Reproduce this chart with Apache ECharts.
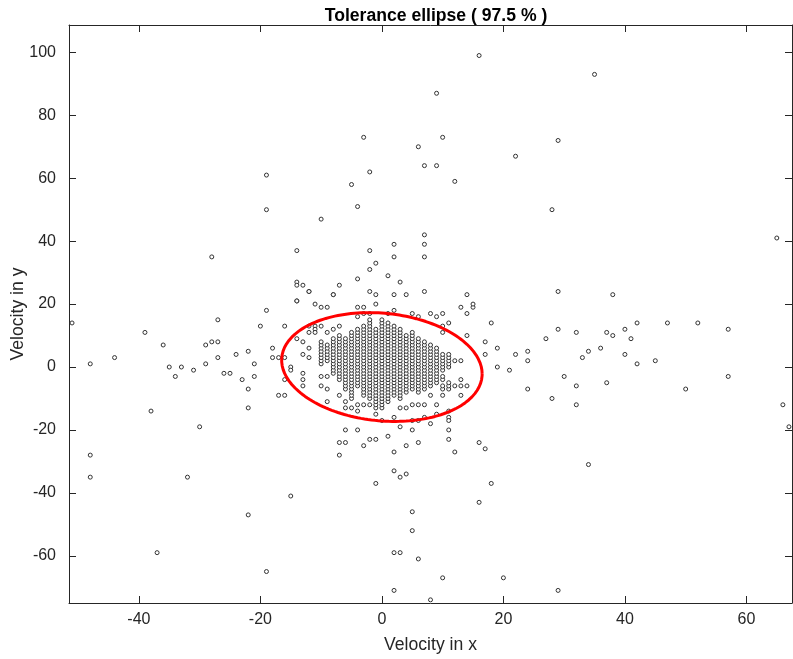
<!DOCTYPE html>
<html>
<head>
<meta charset="utf-8">
<script src="https://cdn.jsdelivr.net/npm/echarts@6/dist/echarts.min.js"></script>
<style>
  html, body { margin: 0; padding: 0; background: #fff; }
  #chart { width: 793px; height: 659px; }
</style>
</head>
<body>
<div id="chart"></div>
<script>
// ---------------- DATA ----------------
const titleText = 'Tolerance ellipse ( 97.5 % )';
const xAxisTitle = 'Velocity in x';
const yAxisTitle = 'Velocity in y';
const xRange = [-51.5, 67.5];
const yRange = [-75, 108.7];

// dense core: one column of integer-valued y velocities per integer x velocity
const coreColumnX = [-10, -9, -8, -7, -6, -5, -4, -3, -2, -1, 0, 1, 2, 3, 4, 5, 6, 7, 8, 9, 10, 11];
const coreColumnY = [
  [1, 2, 3, 4, 5, 6, 7, 8],
  [2, 3, 4, 5, 6, 7],
  [-2, -1, 0, 1, 2, 3, 4, 5, 6, 7, 8, 9],
  [-4, -3, -2, -1, 0, 1, 2, 3, 4, 5, 6, 7, 8, 9, 10],
  [-7, -6, -5, -4, -3, -2, -1, 0, 1, 2, 3, 4, 5, 6, 7, 8, 9],
  [-10, -9, -8, -7, -6, -5, -4, -3, -2, -1, 0, 1, 2, 3, 4, 5, 6, 7, 8, 9, 10, 11],
  [-6, -5, -4, -3, -2, -1, 0, 1, 2, 3, 4, 5, 6, 7, 8, 9, 10, 11, 12],
  [-9, -8, -7, -6, -5, -4, -3, -2, -1, 0, 1, 2, 3, 4, 5, 6, 7, 8, 9, 10, 11, 12, 13],
  [-10, -9, -8, -7, -6, -5, -4, -3, -2, -1, 0, 1, 2, 3, 4, 5, 6, 7, 8, 9, 10, 11, 12, 13, 14, 15],
  [-13, -12, -11, -10, -9, -8, -7, -6, -5, -4, -3, -2, -1, 0, 1, 2, 3, 4, 5, 6, 7, 8, 9, 10, 11, 12],
  [-13, -12, -11, -10, -9, -8, -7, -6, -5, -4, -3, -2, -1, 0, 1, 2, 3, 4, 5, 6, 7, 8, 9, 10, 11, 12, 13, 14, 15],
  [-11, -10, -9, -8, -7, -6, -5, -4, -3, -2, -1, 0, 1, 2, 3, 4, 5, 6, 7, 8, 9, 10, 11, 12, 13, 14],
  [-9, -8, -7, -6, -5, -4, -3, -2, -1, 0, 1, 2, 3, 4, 5, 6, 7, 8, 9, 10, 11, 12, 13],
  [-10, -9, -8, -7, -6, -5, -4, -3, -2, -1, 0, 1, 2, 3, 4, 5, 6, 7, 8, 9, 10, 11, 12],
  [-8, -7, -6, -5, -4, -3, -2, -1, 0, 1, 2, 3, 4, 5, 6, 7, 8, 9, 10],
  [-7, -6, -5, -4, -3, -2, -1, 0, 1, 2, 3, 4, 5, 6, 7, 8, 9, 10, 11],
  [-8, -7, -6, -5, -4, -3, -2, -1, 0, 1, 2, 3, 4, 5, 6, 7, 8, 9],
  [-7, -6, -5, -4, -3, -2, -1, 0, 1, 2, 3, 4, 5, 6, 7, 8],
  [-6, -5, -4, -3, -2, -1, 0, 1, 2, 3, 4, 5, 6, 7],
  [-5, -4, -3, -2, -1, 0, 1, 2, 3, 4, 5, 6],
  [-7, -6, -4, -3, -1, 0, 1, 2, 3, 4],
  [-7, -6, -5, 0, 1, 2, 3, 4]
];

// scattered points around the core (inside and near the ellipse)
const nearPoints = [
  [-16, 13], [-14, 9], [-13, 8], [-12, 13], [-11, 13], [-11, 12], [-11, 11], [-10, 13], [-9, 11], [-8, 12], [-7, 13],
  [-12, 11], [-13, 4], [-12, 6], [-12, 3], [-13, -2], [-13, -4], [-13, -6], [-15, 0], [-15, -1], [-16, -4], [-17, -9],
  [-18, 6], [-18, 3], [-17, 3], [-16, 3], [-10, -3], [-10, -6], [-9, -3], [-9, -7], [-9, -11], [-7, -9],
  [-6, -11], [-6, -13], [-5, -13], [-4, -12], [-3, -12], [-4, -14], [-2, -12], [-1, -15], [0, -17],
  [3, -13], [4, -13], [5, -12], [6, -12], [7, -12], [8, -9], [9, -12],
  [10, -9], [12, -6], [13, -6], [14, -6], [13, -4],
  [12, 2], [13, 2], [14, 10], [10, 11], [10, 13], [11, 14],
  [8, 17], [9, 16], [10, 17], [5, 17], [6, 16], [14, 17], [15, 19], [-2, 17], [-3, 17], [1, 17], [2, 18],
  [-12, 24], [-14, 21], [-11, 20], [-8, 23], [-4, 16], [-2, 24], [-1, 23], [-1, 20], [-4, 19], [-3, 19],
  [-6, -20], [-4, -20], [2, -16], [5, -17], [9, -15], [11, -14], [11, -16], [13, -9], [7, -16]
];

// outlying points
const outerPoints = [
  [16, 99], [35, 93], [9, 87], [10, 73], [6, 70], [29, 72], [7, 64], [9, 64], [22, 67], [12, 59], [28, 50], [65, 41],
  [7, 42], [7, 39], [7, 35], [3, 27], [4, 23], [7, 24], [14, 23], [29, 24], [38, 23], [15, 20], [13, 19],
  [-3, 73], [-19, 61], [-2, 62], [-5, 58], [-4, 51], [-19, 50], [-10, 47], [-28, 35], [-14, 37], [-2, 37], [2, 39],
  [2, 35], [-1, 33], [-2, 31], [-4, 28], [1, 29], [-14, 27], [-14, 26], [-13, 26], [-12, 24], [-7, 26], [-8, 23],
  [2, 23], [-14, 21], [-10, 19], [-9, 19],
  [-51, 14], [-48, 1], [-44, 3], [-39, 11], [-36, 7], [-35, 0], [-34, -3], [-33, 0], [-31, -1], [-38, -14],
  [-29, 1], [-29, 7], [-28, 8], [-27, 8], [-27, 15], [-27, 3], [-26, -2], [-25, -2], [-24, 4], [-23, -4], [-22, 5],
  [-22, -7], [-22, -13], [-21, 1], [-21, -3], [-20, 13], [-19, 18], [-16, -9],
  [-30, -19], [-48, -28], [-48, -35], [-32, -35], [-37, -59], [-15, -41], [-22, -47], [-19, -65],
  [-7, -24], [-6, -24], [-7, -28], [-3, -25], [-2, -23], [-1, -23], [1, -22], [2, -27], [3, -19], [5, -20],
  [4, -25], [6, -24], [6, -17], [8, -18], [11, -17], [11, -20], [11, -23], [12, -27], [-1, -37], [2, -33], [3, -35],
  [4, -34], [5, -46], [5, -52], [2, -59], [3, -59], [6, -61], [2, -71], [8, -74], [10, -67], [20, -67], [29, -71],
  [16, -24], [17, -26], [18, -37], [16, -43], [34, -31], [67, -19], [66, -12],
  [18, 14], [17, 8], [17, 4], [19, 6], [19, 0], [21, -1], [22, 4], [24, 5], [24, 2], [24, -7], [27, 9], [28, -10],
  [29, 12], [30, -3], [32, 11], [32, -6], [32, -12], [33, 3], [34, 5], [36, 6], [37, 11], [38, 10], [37, -5],
  [40, 12], [40, 4], [41, 9], [42, 14], [42, 1], [45, 2], [47, 14], [50, -7], [52, 14], [57, 12], [57, -3]
];

// tolerance ellipse parameters (mean, covariance, chi-square quantile for 97.5 %)
const ellipseCenter = [0, 0];
const ellipseCovariance = [[36.9, -4.9], [-4.9, 40.5]];
const chiSquare975 = 7.378;

// ---------------- BUILD ----------------
const corePoints = [];
coreColumnX.forEach((x, i) => coreColumnY[i].forEach(y => corePoints.push([x, y])));
const allPoints = corePoints.concat(nearPoints, outerPoints);

function ellipsePath() {
  const sxx = ellipseCovariance[0][0] * chiSquare975;
  const sxy = ellipseCovariance[0][1] * chiSquare975;
  const syy = ellipseCovariance[1][1] * chiSquare975;
  const l11 = Math.sqrt(sxx), l21 = sxy / l11, l22 = Math.sqrt(syy - l21 * l21);
  const pts = [];
  const n = 180;
  for (let k = 0; k <= n; k++) {
    const t = 2 * Math.PI * k / n;
    const c = Math.cos(t), s = Math.sin(t);
    pts.push([ellipseCenter[0] + l11 * c, ellipseCenter[1] + l21 * c + l22 * s]);
  }
  return pts;
}

const FONT = '"Liberation Sans", Arial, Helvetica, sans-serif';
const AXIS_COLOR = '#262626';

const chart = echarts.init(document.getElementById('chart'), null, { renderer: 'canvas' });
const baseX = {
  type: 'value', min: xRange[0], max: xRange[1], splitNumber: 6,
  axisLine: { show: true, onZero: false, lineStyle: { color: AXIS_COLOR, width: 1 } },
  axisTick: { show: true, inside: true, length: 7, lineStyle: { color: AXIS_COLOR, width: 1 } },
  splitLine: { show: false }
};
const baseY = {
  type: 'value', min: yRange[0], max: yRange[1], splitNumber: 9,
  axisLine: { show: true, onZero: false, lineStyle: { color: AXIS_COLOR, width: 1 } },
  axisTick: { show: true, inside: true, length: 7, lineStyle: { color: AXIS_COLOR, width: 1 } },
  splitLine: { show: false }
};

chart.setOption({
  animation: false,
  backgroundColor: '#ffffff',
  title: {
    text: titleText, left: 431, top: 2, textAlign: 'center',
    textStyle: { fontFamily: FONT, fontSize: 17.6, fontWeight: 'bold', color: '#000' }
  },
  grid: { left: 69, right: 1, top: 25, bottom: 56, containLabel: false, outerBoundsMode: 'none' },
  xAxis: [
    Object.assign({}, baseX, {
      position: 'bottom',
      name: xAxisTitle, nameLocation: 'middle', nameGap: 33, nameMoveOverlap: false,
      nameTextStyle: { fontFamily: FONT, fontSize: 17.6, color: AXIS_COLOR },
      axisLabel: { show: true, margin: 9, showMinLabel: false, showMaxLabel: false,
        fontFamily: FONT, fontSize: 16, color: AXIS_COLOR }
    }),
    Object.assign({}, baseX, { position: 'top', axisLabel: { show: false } })
  ],
  yAxis: [
    Object.assign({}, baseY, {
      position: 'left',
      name: yAxisTitle, nameLocation: 'middle', nameGap: 42, nameRotate: 90, nameMoveOverlap: false,
      nameTextStyle: { fontFamily: FONT, fontSize: 17.6, color: AXIS_COLOR },
      axisLabel: { show: true, margin: 13, showMinLabel: false, showMaxLabel: false,
        fontFamily: FONT, fontSize: 16, color: AXIS_COLOR }
    }),
    Object.assign({}, baseY, { position: 'right', axisLabel: { show: false } })
  ],
  series: [
    {
      type: 'scatter', xAxisIndex: 0, yAxisIndex: 0,
      data: allPoints, symbol: 'circle', symbolSize: 4,
      itemStyle: { color: '#ffffff', borderColor: '#333333', borderWidth: 1, opacity: 1 },
      z: 2, silent: true
    },
    {
      type: 'line', xAxisIndex: 0, yAxisIndex: 0,
      data: ellipsePath(), showSymbol: false, smooth: false,
      lineStyle: { color: '#ff0000', width: 3 },
      z: 3, silent: true
    }
  ]
});
</script>
</body>
</html>
